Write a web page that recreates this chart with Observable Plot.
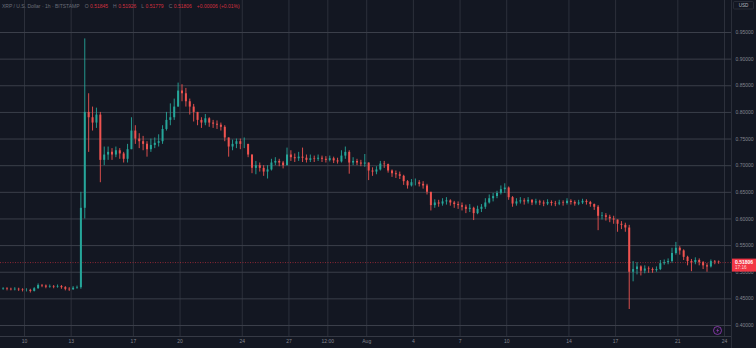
<!DOCTYPE html>
<html><head><meta charset="utf-8">
<script src="https://cdn.jsdelivr.net/npm/d3@7"></script>
<script src="https://cdn.jsdelivr.net/npm/@observablehq/plot@0.6"></script>
<style>html,body{margin:0;padding:0;background:#131722;overflow:hidden}svg{display:block}</style>
</head><body><div id="chart"></div>
<script>
// ---- data (6-hour candles) ----
const startTime = Date.UTC(2023, 6, 8, 12); // first candle open: Jul 8 12:00 UTC
const candleHours = 6;
const firstOpen = 0.468;
const closes = [
  .469,.468,                 // Jul 8
  .467,.468,.467,.466,       // Jul 9
  .466,.464,.469,.475,       // Jul 10
  .474,.472,.473,.472,       // Jul 11
  .473,.471,.468,.467,       // Jul 12
  .470,.471,.620,.800,       // Jul 13
  .790,.780,.795,.710,       // Jul 14
  .720,.725,.720,.728,       // Jul 15
  .722,.712,.730,.765,       // Jul 16
  .750,.745,.740,.730,       // Jul 17
  .738,.742,.745,.768,       // Jul 18
  .785,.790,.810,.840,       // Jul 19
  .835,.820,.810,.800,       // Jul 20
  .785,.780,.788,.780,       // Jul 21
  .778,.776,.772,.752,       // Jul 22
  .735,.740,.745,.740,       // Jul 23
  .740,.720,.695,.700,       // Jul 24
  .695,.688,.692,.705,       // Jul 25
  .708,.705,.700,.720,       // Jul 26
  .715,.713,.716,.714,       // Jul 27
  .710,.713,.712,.714,       // Jul 28
  .712,.710,.713,.709,       // Jul 29
  .707,.718,.725,.705,       // Jul 30
  .708,.705,.703,.705,       // Jul 31
  .690,.688,.692,.703,       // Aug 1
  .702,.690,.685,.683,       // Aug 2
  .680,.670,.662,.668,       // Aug 3
  .668,.665,.662,.650,       // Aug 4
  .625,.630,.628,.632,       // Aug 5
  .634,.630,.627,.625,       // Aug 6
  .622,.618,.620,.610,       // Aug 7
  .618,.622,.630,.638,       // Aug 8
  .642,.648,.655,.658,       // Aug 9
  .640,.628,.632,.634,       // Aug 10
  .632,.635,.630,.632,       // Aug 11
  .630,.628,.631,.629,       // Aug 12
  .628,.630,.629,.633,       // Aug 13
  .631,.628,.630,.633,       // Aug 14
  .631,.627,.622,.605,       // Aug 15
  .606,.603,.600,.598,       // Aug 16
  .590,.588,.583,.500,       // Aug 17
  .505,.510,.502,.506,       // Aug 18
  .505,.503,.505,.516,       // Aug 19
  .518,.520,.535,.545,       // Aug 20
  .540,.528,.520,.518,       // Aug 21
  .522,.518,.512,.510,       // Aug 22
  .520,.519,.51806           // Aug 23
];
const highs = [
  .471,.471,
  .470,.471,.470,.469,
  .469,.468,.471,.478,
  .477,.476,.476,.475,
  .476,.475,.473,.471,
  .473,.474,.650,.938,
  .835,.810,.808,.800,
  .735,.735,.732,.735,
  .732,.725,.740,.790,
  .775,.760,.755,.745,
  .750,.752,.758,.775,
  .800,.816,.825,.855,
  .852,.845,.825,.815,
  .800,.790,.796,.790,
  .785,.784,.780,.775,
  .752,.748,.750,.750,
  .752,.740,.720,.708,
  .705,.700,.700,.712,
  .715,.712,.708,.733,
  .728,.722,.725,.733,
  .720,.720,.718,.720,
  .718,.717,.718,.716,
  .714,.728,.735,.728,
  .715,.712,.710,.721,
  .705,.696,.698,.708,
  .708,.703,.692,.690,
  .688,.682,.672,.674,
  .675,.672,.670,.665,
  .650,.636,.635,.638,
  .640,.636,.633,.632,
  .630,.626,.627,.622,
  .624,.627,.638,.645,
  .648,.652,.662,.666,
  .660,.642,.638,.640,
  .638,.640,.636,.637,
  .635,.634,.636,.634,
  .633,.635,.634,.638,
  .636,.634,.635,.637,
  .636,.633,.628,.625,
  .612,.610,.607,.605,
  .598,.595,.592,.588,
  .520,.518,.512,.512,
  .510,.508,.510,.522,
  .523,.525,.545,.556,
  .548,.542,.530,.524,
  .527,.525,.520,.516,
  .523,.522,.521
];
const lows = [
  .466,.465,
  .465,.465,.464,.463,
  .463,.461,.463,.468,
  .471,.469,.470,.469,
  .470,.468,.465,.464,
  .466,.468,.468,.600,
  .725,.765,.770,.668,
  .700,.710,.710,.715,
  .712,.705,.705,.730,
  .740,.732,.728,.716,
  .725,.732,.735,.740,
  .765,.775,.785,.810,
  .820,.810,.795,.782,
  .775,.770,.775,.772,
  .770,.768,.765,.745,
  .716,.728,.732,.730,
  .732,.715,.685,.683,
  .688,.680,.675,.690,
  .700,.698,.694,.700,
  .708,.706,.708,.706,
  .705,.706,.706,.708,
  .706,.705,.707,.704,
  .703,.705,.712,.684,
  .700,.700,.698,.697,
  .672,.680,.683,.690,
  .695,.686,.678,.676,
  .674,.663,.656,.660,
  .662,.660,.656,.645,
  .615,.620,.622,.624,
  .626,.624,.620,.618,
  .615,.610,.612,.597,
  .608,.612,.618,.628,
  .632,.638,.645,.648,
  .635,.622,.624,.628,
  .626,.628,.625,.626,
  .625,.623,.625,.624,
  .623,.625,.624,.626,
  .626,.624,.625,.627,
  .626,.622,.616,.578,
  .598,.596,.593,.590,
  .575,.580,.575,.430,
  .482,.495,.493,.497,
  .498,.498,.500,.503,
  .513,.514,.517,.532,
  .532,.522,.512,.501,
  .514,.512,.505,.500,
  .508,.514,.515
];
const priceTicks = [0.40,0.45,0.50,0.55,0.60,0.65,0.70,0.75,0.80,0.85,0.90,0.95];
const xTickDates = ["2023-07-10","2023-07-13","2023-07-17","2023-07-20","2023-07-24","2023-07-27","2023-07-29T12:00","2023-08-01","2023-08-04","2023-08-07","2023-08-10","2023-08-14","2023-08-17","2023-08-21","2023-08-24"];
const xTickLabels = ["10","13","17","20","24","27","12:00","Aug","4","7","10","14","17","21","24"];
const lastPrice = 0.51806;
const lastTimeLabel = "17:16";
const headerTitle = "XRP / U.S. Dollar · 1h · BITSTAMP";
const ohlcLetters = ["O","H","L","C"];
const ohlcValues = ["0.51845","0.51926","0.51779","0.51806"];
const changeText = "+0.00006 (+0.01%)";
const currencyLabel = "USD";

// ---- build table ----
const candles = closes.map((c, i) => ({
  date: new Date(startTime + (i * candleHours + candleHours / 2) * 3600e3),
  open: i === 0 ? firstOpen : closes[i - 1],
  close: c, high: highs[i], low: lows[i]
}));
candles.forEach(d => d.up = d.close >= d.open);
const xTicks = xTickDates.map((s, i) => ({date: new Date(s + (s.includes("T") ? "Z" : "T00:00Z")), label: xTickLabels[i]}));

const UP = "#26a69a", DOWN = "#ef5350", RED = "#f23645";
const FONT = "Liberation Sans, Arial, sans-serif";

const overlay = (index, scales, values, dim) => {
  const g = d3.create("svg:g").attr("font-family", FONT).attr("text-anchor", "start");
  const yy = scales.y(lastPrice);
  // header
  const t = g.append("text").attr("x", 2).attr("y", 7.5).attr("font-size", 5).attr("text-anchor", "start");
  t.append("tspan").attr("fill", "#6a6d78").text(headerTitle);
  ohlcLetters.forEach((L, i) => {
    t.append("tspan").attr("dx", i === 0 ? 5 : 5).attr("fill", "#6a6d78").text(L);
    t.append("tspan").attr("dx", 1.5).attr("fill", RED).attr("fill-opacity", 0.85).text(ohlcValues[i]);
  });
  t.append("tspan").attr("dx", 5).attr("fill", RED).attr("fill-opacity", 0.85).text(changeText);
  // USD box
  g.append("rect").attr("x", 733.5).attr("y", 1.5).attr("width", 20).attr("height", 7.5).attr("rx", 1)
    .attr("fill", "#131722").attr("stroke", "#363a45").attr("stroke-width", 0.6);
  g.append("text").attr("x", 743.5).attr("y", 5.4).attr("text-anchor", "middle").attr("dominant-baseline", "middle")
    .attr("font-size", 4.6).attr("fill", "#b2b5be").text(currencyLabel);
  // last price label
  g.append("rect").attr("x", 732).attr("y", yy - 3.5).attr("width", 24).attr("height", 13).attr("fill", RED);
  g.append("text").attr("x", 735).attr("y", yy + 0.8).attr("dominant-baseline", "middle").attr("text-anchor", "start")
    .attr("font-size", 5).attr("font-weight", "bold").attr("fill", "#ffffff").text(lastPrice.toFixed(5));
  g.append("text").attr("x", 735).attr("y", yy + 6).attr("dominant-baseline", "middle").attr("text-anchor", "start")
    .attr("font-size", 4.6).attr("fill", "#ffd6d9").text(lastTimeLabel);
  // separator line of price scale to bottom
  g.append("line").attr("x1", 731.5).attr("x2", 731.5).attr("y1", 0).attr("y2", 348).attr("stroke", "#2a2e39").attr("stroke-width", 1);
  // lightning icon
  g.append("circle").attr("cx", 717.5).attr("cy", 330.5).attr("r", 4).attr("fill", "#131722")
    .attr("stroke", "#9c3fc0").attr("stroke-width", 0.8);
  g.append("path").attr("d", "M718.6,327.6 L716.2,330.8 L717.7,330.8 L716.6,333.4 L719,330 L717.5,330 Z")
    .attr("fill", "#9c3fc0");
  return g.node();
};

const chart = Plot.plot({
  width: 756, height: 348,
  marginLeft: 0, marginRight: 25, marginTop: 0, marginBottom: 12,
  style: {background: "#131722", fontFamily: FONT, overflow: "visible"},
  x: {type: "utc", domain: [new Date("2023-07-10T00:00Z"), new Date("2023-08-24T00:00Z")], range: [24, 724], axis: null},
  y: {domain: [0.40, 0.95], range: [325, 32], axis: null},
  marks: [
    Plot.ruleX(xTicks, {x: "date", stroke: "#2c303b", strokeWidth: 1}),
    Plot.ruleY(priceTicks, {stroke: "#3b3f4a", strokeWidth: 1}),
    Plot.frame({anchor: "bottom", stroke: "#363a45"}),
    Plot.ruleY([lastPrice], {stroke: RED, strokeOpacity: 0.55, strokeDasharray: "1,1.5"}),
    Plot.ruleX(candles, {x: "date", y1: "low", y2: "high", stroke: d => d.up ? UP : DOWN, strokeWidth: 0.9}),
    Plot.ruleX(candles, {x: "date", y1: "open", y2: "close", stroke: d => d.up ? UP : DOWN, strokeWidth: 2}),
    Plot.text(priceTicks, {y: d => d, text: d => d3.format(".5f")(d), frameAnchor: "right", textAnchor: "start", dx: 4, fontSize: 5, fill: "#838690"}),
    Plot.text(xTicks, {x: "date", text: "label", frameAnchor: "bottom", dy: 6, fontSize: 5, fill: "#838690", fontWeight: d => d.label === "Aug" ? "bold" : "normal"}),
    overlay
  ]
});
document.getElementById("chart").appendChild(chart);
</script></body></html>
